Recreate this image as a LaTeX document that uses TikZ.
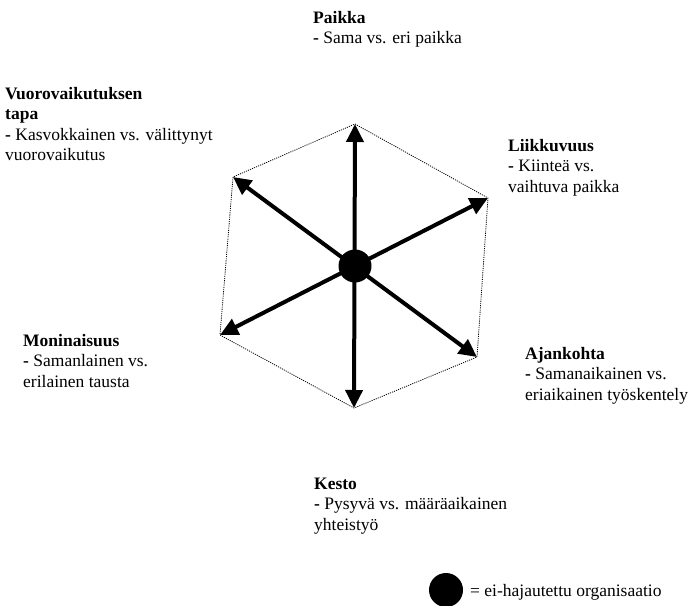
\documentclass[tikz,border=0pt]{standalone}
\usepackage{fontspec}
\setmainfont{Liberation Serif}
\usetikzlibrary{arrows.meta}
\begin{document}
\begin{tikzpicture}[x=1pt,y=-1pt,
  lbl/.style={anchor=base west,inner sep=0pt,font=\fontsize{17.5}{20.5}\selectfont},
  hexline/.style={line width=0.8pt,dash pattern=on 1.1pt off 1.1pt},
  axis/.style={line width=4pt,{Triangle[length=18pt,width=17pt]}-{Triangle[length=18pt,width=17pt]}},
  dot/.style={circle,fill=black,inner sep=0pt,minimum size=33pt}]
\useasboundingbox (0,0) rectangle (692,605);
% hexagon vertices
\coordinate (T) at (355,124);
\coordinate (UL) at (233,177);
\coordinate (UR) at (488,198);
\coordinate (LL) at (220,335);
\coordinate (LR) at (477,357);
\coordinate (B) at (354,408);
\draw[hexline] (T) -- (UR) -- (LR) -- (B) -- (LL) -- (UL) -- cycle;
\draw[axis] (B) -- (T);
\draw[axis] (LR) -- (UL);
\draw[axis] (LL) -- (UR);
\node[dot] (C) at (355,266) {};
% labels
\node[lbl] (paikka) at (313,23) {\begin{tabular}[t]{@{}l@{}}\textbf{Paikka}\\\textbf{-} Sama vs. eri paikka\end{tabular}};
\node[lbl] (vuoro) at (5,99) {\begin{tabular}[t]{@{}l@{}}\textbf{Vuorovaikutuksen}\\\textbf{tapa}\\\textbf{-} Kasvokkainen vs. välittynyt\\vuorovaikutus\end{tabular}};
\node[lbl] (liikku) at (508,151) {\begin{tabular}[t]{@{}l@{}}\textbf{Liikkuvuus}\\\textbf{-} Kiinteä vs.\\vaihtuva paikka\end{tabular}};
\node[lbl] (monin) at (23,346) {\begin{tabular}[t]{@{}l@{}}\textbf{Moninaisuus}\\\textbf{-} Samanlainen vs.\\erilainen tausta\end{tabular}};
\node[lbl] (ajan) at (525,359) {\begin{tabular}[t]{@{}l@{}}\textbf{Ajankohta}\\\textbf{-} Samanaikainen vs.\\eriaikainen työskentely\end{tabular}};
\node[lbl] (kesto) at (314,489) {\begin{tabular}[t]{@{}l@{}}\textbf{Kesto}\\\textbf{-} Pysyvä vs. määräaikainen\\yhteistyö\end{tabular}};
% legend
\node[dot,minimum size=34pt] (legdot) at (446,590) {};
\node[lbl] (legtext) at (470,596) {= ei-hajautettu organisaatio};
\end{tikzpicture}
\end{document}
